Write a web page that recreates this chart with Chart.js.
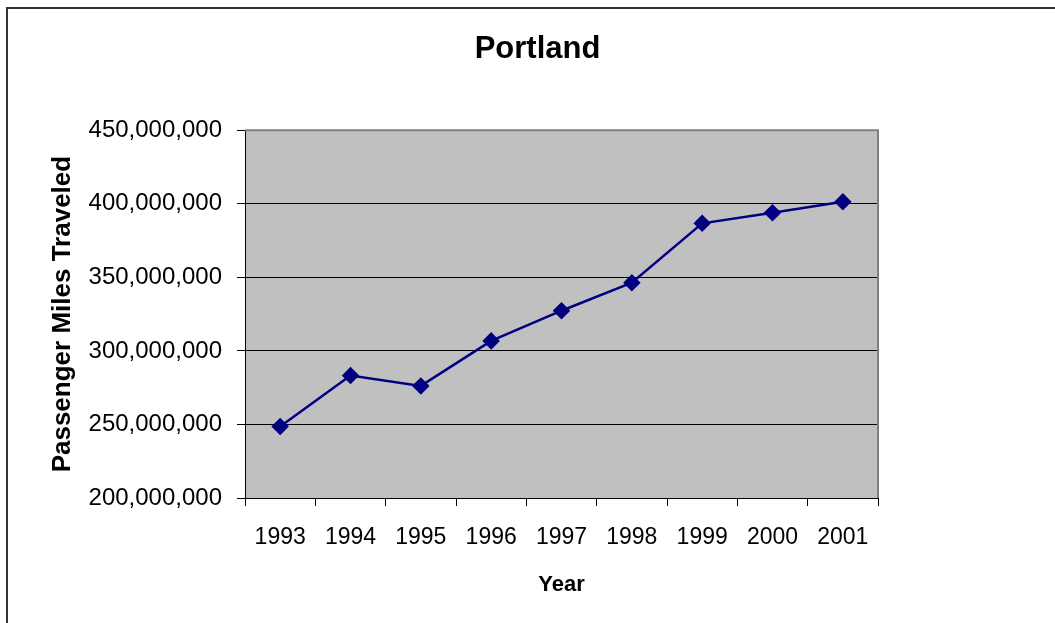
<!DOCTYPE html>
<html>
<head>
<meta charset="utf-8">
<script src="https://cdn.jsdelivr.net/npm/chart.js@4/dist/chart.umd.min.js"></script>
<style>
  html, body { margin: 0; padding: 0; background: #fff; overflow: hidden; }
  canvas { display: block; }
</style>
</head>
<body>
<canvas id="chart" width="1075" height="640"></canvas>
<script>
// Portland - passenger miles traveled per year
const years = ['1993', '1994', '1995', '1996', '1997', '1998', '1999', '2000', '2001'];
const passengerMiles = [248600000, 283200000, 276200000, 306800000, 327300000, 346300000, 386700000, 393900000, 401300000];
const yMin = 200000000;
const yMax = 450000000;
const yStep = 50000000;

const FONT = '"Liberation Sans", Arial, sans-serif';

// gray plot background + plot border + outer chart frame
const plotDecor = {
    id: 'plotDecor',
    beforeDraw(chart) {
        const ctx = chart.ctx;
        const a = chart.chartArea;
        ctx.save();
        ctx.fillStyle = '#fff';
        ctx.fillRect(0, 0, chart.width, chart.height);
        ctx.fillStyle = '#c0c0c0';
        ctx.fillRect(a.left, a.top, a.right - a.left, a.bottom - a.top);
        ctx.strokeStyle = '#333';
        ctx.lineWidth = 2;
        ctx.strokeRect(7, 8, 1060, 700);
        ctx.restore();
    },
    afterDraw(chart) {
        const ctx = chart.ctx;
        const a = chart.chartArea;
        ctx.save();
        ctx.strokeStyle = '#808080';
        ctx.lineWidth = 2;
        ctx.beginPath();
        ctx.moveTo(a.left, a.top);
        ctx.lineTo(a.right, a.top);
        ctx.lineTo(a.right, a.bottom);
        ctx.stroke();
        ctx.restore();
    }
};

new Chart(document.getElementById('chart'), {
    type: 'line',
    data: {
        labels: years,
        datasets: [{
            data: passengerMiles,
            borderColor: '#000080',
            backgroundColor: '#000080',
            borderWidth: 2.5,
            pointStyle: 'rectRot',
            pointRadius: 7,
            pointHoverRadius: 7,
            tension: 0,
            fill: false
        }]
    },
    options: {
        responsive: false,
        animation: false,
        layout: { padding: 0 },
        plugins: {
            legend: { display: false },
            tooltip: { enabled: false },
            title: {
                display: true,
                text: 'Portland',
                color: '#000',
                font: { family: FONT, size: 31, weight: 'bold' },
                padding: { top: 31, bottom: 62 }
            }
        },
        scales: {
            x: {
                offset: true,
                grid: {
                    offset: true,
                    drawOnChartArea: false,
                    drawTicks: true,
                    tickLength: 8,
                    color: '#000'
                },
                border: { color: '#000', width: 1 },
                ticks: {
                    color: '#000',
                    font: { family: FONT, size: 23 },
                    padding: 18,
                    maxRotation: 0,
                    autoSkip: false
                },
                title: {
                    display: true,
                    text: 'Year',
                    color: '#000',
                    font: { family: FONT, size: 22, weight: 'bold' },
                    padding: { top: 0, bottom: 42 }
                },
                afterFit(scale) { scale.height = 142; }
            },
            y: {
                min: yMin,
                max: yMax,
                grid: {
                    color: '#000',
                    lineWidth: 1,
                    drawTicks: true,
                    tickLength: 8
                },
                border: { color: '#000', width: 1 },
                ticks: {
                    stepSize: yStep,
                    color: '#000',
                    font: { family: FONT, size: 24 },
                    padding: 15,
                    callback: v => v.toLocaleString('en-US')
                },
                title: {
                    display: true,
                    text: 'Passenger Miles Traveled',
                    color: '#000',
                    font: { family: FONT, size: 26, weight: 'bold' },
                    padding: { top: 47, bottom: 0 }
                },
                afterFit(scale) { scale.width = 245; }
            },
            // empty right-side axis, only reserves the space right of the plot
            yRight: {
                position: 'right',
                display: true,
                min: yMin,
                max: yMax,
                grid: { display: false, drawTicks: false },
                border: { display: false },
                ticks: { display: false },
                afterFit(scale) { scale.width = 197; }
            }
        }
    },
    plugins: [plotDecor]
});
</script>
</body>
</html>
